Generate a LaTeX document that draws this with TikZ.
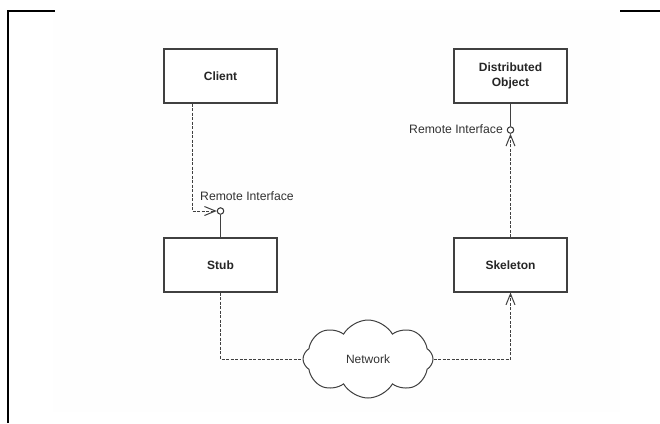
\documentclass[tikz,border=0pt]{standalone}
\usepackage{fontspec}
\setmainfont{Liberation Sans}
\usetikzlibrary{arrows.meta,shapes.symbols}
\begin{document}
\begin{tikzpicture}[x=1pt,y=-1pt,
  box/.style={draw=black!75, line width=1.1pt, minimum width=113pt, minimum height=54pt,
    font=\bfseries\fontsize{12}{15}\selectfont, text=black!85, align=center, inner sep=0pt, fill=white},
  iface/.style={circle, draw=black!80, line width=1pt, minimum size=6.5pt, inner sep=0pt, fill=white},
  link/.style={draw=black!75, line width=1pt, dash pattern=on 3pt off 1.5pt},
  dep/.style={link, -{Straight Barb[length=11pt,width=9pt,line width=1pt]}},
  wire/.style={draw=black!75, line width=1.1pt},
  lbl/.style={font=\fontsize{12.2}{14}\selectfont, text=black!80, inner sep=0pt}
]
\useasboundingbox (0,0) rectangle (660,423);

% page background and frame
\fill[black!0.5] (53,10) rectangle (620,412);
\draw[line width=2pt] (8,423) -- (8,11) -- (55,11);
\draw[line width=2pt] (620,11) -- (660,11);

% components
\node[box] (client) at (220.5,76) {Client};
\node[box] (dobj)   at (510.5,76) {Distributed\\Object};
\node[box] (stub)   at (220.5,265) {Stub};
\node[box] (skel)   at (510.5,265) {Skeleton};

\node[cloud, cloud puffs=8, cloud puff arc=120, aspect=1.7, draw=black!75, line width=1pt,
      minimum width=130pt, minimum height=78pt, inner sep=0pt, fill=white,
      font=\fontsize{12}{14}\selectfont, text=black!80] (net) at (368,359) {Network};

% provided interfaces
\node[iface] (if1) at (220.5,211) {};
\node[iface] (if2) at (510.5,130) {};
\node[lbl, anchor=south west] (if1lbl) at (200,201) {Remote Interface};
\node[lbl, anchor=east] (if2lbl) at (503,129) {Remote Interface};

% interface realisations
\draw[wire] (stub.north) -- (if1.south);
\draw[wire] (dobj.south) -- (if2.north);

% dependencies
\draw[dep] ([xshift=-28.5pt]client.south) |- (if1.west);
\draw[dep] (skel.north) -- (if2.south);

% network paths
\draw[link] (stub.south) |- (net.west);
\draw[dep] (net.east) -| (skel.south);
\end{tikzpicture}
\end{document}
